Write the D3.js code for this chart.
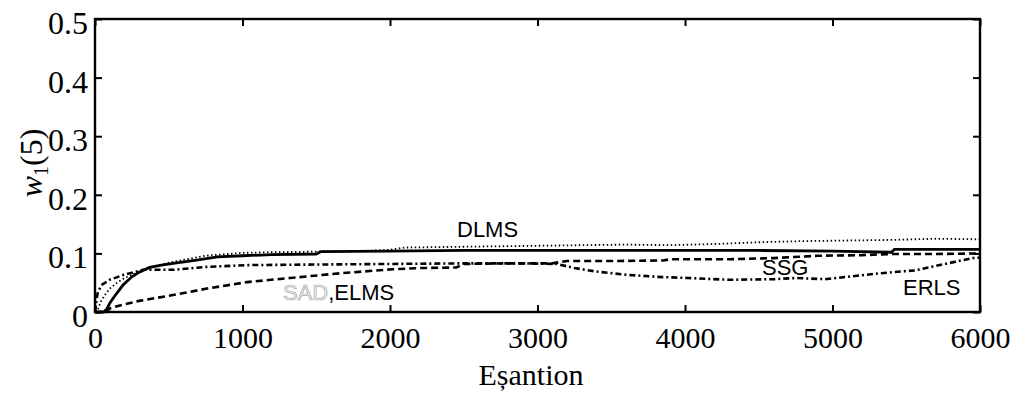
<!DOCTYPE html>
<html>
<head>
<meta charset="utf-8">
<script src="https://cdn.jsdelivr.net/npm/d3@7"></script>
<style>
  html, body { margin: 0; padding: 0; background: #fff; }
  svg { display: block; }
</style>
</head>
<body>
<svg id="chart" width="1025" height="405"></svg>
<script>
// Tick values for both axes
const xTicks = [0, 1000, 2000, 3000, 4000, 5000, 6000];
const yTicks = [0, 0.1, 0.2, 0.3, 0.4, 0.5];

// Weight trajectories [sample, w1(5)] for each adaptive algorithm
const dlms = [[0,0],[20,0.005],[40,0.018],[70,0.03],[100,0.04],[150,0.05],[200,0.058],[300,0.069],[400,0.077],[500,0.084],[600,0.089],[750,0.096],[900,0.099],[1000,0.101],[1200,0.102],[1500,0.103],[1800,0.104],[2000,0.106],[2100,0.110],[2400,0.111],[2700,0.112],[3000,0.113],[3300,0.114],[3600,0.115],[3900,0.114],[4200,0.116],[4500,0.119],[4800,0.121],[5100,0.122],[5400,0.123],[5700,0.125],[6000,0.124]];

const ssg = [[0,0],[60,0],[80,0.005],[100,0.015],[130,0.026],[190,0.046],[250,0.06],[300,0.068],[370,0.076],[450,0.08],[530,0.083],[700,0.089],[830,0.094],[1000,0.096],[1200,0.098],[1500,0.099],[1530,0.103],[2000,0.104],[2500,0.105],[3000,0.105],[3500,0.105],[4000,0.105],[4500,0.105],[5000,0.104],[5400,0.102],[5420,0.107],[6000,0.107]];

const sadElms = [[0,0],[80,0],[100,0.006],[150,0.01],[300,0.019],[530,0.029],[760,0.04],[1030,0.051],[1320,0.058],[1660,0.066],[2020,0.073],[2200,0.075],[2450,0.076],[2500,0.082],[2800,0.083],[3100,0.083],[3200,0.087],[3500,0.087],[3850,0.088],[3900,0.09],[4300,0.09],[4600,0.092],[4900,0.096],[5200,0.097],[5400,0.099],[5700,0.099],[6000,0.1]];

const erls = [[0,0],[10,0.02],[20,0.035],[50,0.047],[100,0.055],[190,0.063],[325,0.072],[420,0.072],[530,0.072],[760,0.077],[1030,0.08],[1500,0.081],[2000,0.082],[2500,0.083],[2900,0.083],[3130,0.082],[3250,0.075],[3400,0.069],[3580,0.064],[3810,0.06],[4020,0.058],[4300,0.055],[4600,0.056],[4750,0.058],[4950,0.056],[5100,0.06],[5320,0.066],[5560,0.071],[5780,0.083],[5950,0.092],[6000,0.093]];

const svg = d3.select("#chart");
const plotLeft = 95, plotRight = 980, plotTop = 19, plotBottom = 312;

const x = d3.scaleLinear().domain([0, 6000]).range([plotLeft, plotRight]);
const y = d3.scaleLinear().domain([0, 0.5]).range([plotBottom, plotTop]);

const line = d3.line().x(d => x(d[0])).y(d => y(d[1]));

const series = [
  { data: dlms,    dash: "1.5,2.5",   width: 1.8 },
  { data: ssg,     dash: null,        width: 2.8 },
  { data: sadElms, dash: "7,4",       width: 2.6 },
  { data: erls,    dash: "6,3,2,3",   width: 2.6 }
];

svg.append("g").selectAll("path")
  .data(series)
  .join("path")
  .attr("d", s => line(s.data))
  .attr("fill", "none")
  .attr("stroke", "#000")
  .attr("stroke-width", s => s.width)
  .attr("stroke-dasharray", s => s.dash);

// Axes with inward ticks
const fmtY = d => d === 0 ? "0" : d3.format(".1f")(d);

const gx = svg.append("g").attr("transform", `translate(0,${plotBottom})`)
  .call(d3.axisBottom(x).tickValues(xTicks).tickSizeInner(-7).tickSizeOuter(0).tickPadding(15).tickFormat(d3.format("d")));
const gy = svg.append("g").attr("transform", `translate(${plotLeft},0)`)
  .call(d3.axisLeft(y).tickValues(yTicks).tickSizeInner(-7).tickSizeOuter(0).tickPadding(7).tickFormat(fmtY));
const gt = svg.append("g").attr("transform", `translate(0,${plotTop})`)
  .call(d3.axisTop(x).tickValues(xTicks).tickSizeInner(-7).tickSizeOuter(0).tickFormat(""));
const gr = svg.append("g").attr("transform", `translate(${plotRight},0)`)
  .call(d3.axisRight(y).tickValues(yTicks).tickSizeInner(-7).tickSizeOuter(0).tickFormat(""));

[gx, gy, gt, gr].forEach(g => {
  g.select(".domain").remove();
  g.selectAll(".tick line").attr("stroke", "#000").attr("stroke-width", 2);
  g.selectAll("text")
    .attr("fill", "#000")
    .attr("font-family", "'Liberation Serif', 'Times New Roman', serif")
    .attr("font-size", 30);
});
gy.selectAll("text").attr("dy", "0.45em").attr("font-size", 32);

// Frame
svg.append("rect")
  .attr("x", plotLeft).attr("y", plotTop)
  .attr("width", plotRight - plotLeft).attr("height", plotBottom - plotTop)
  .attr("fill", "none").attr("stroke", "#000").attr("stroke-width", 2.4);

// Axis titles
svg.append("text")
  .attr("x", 531).attr("y", 385)
  .attr("text-anchor", "middle")
  .attr("font-family", "'Liberation Serif', 'Times New Roman', serif")
  .attr("font-size", 30)
  .text("Eșantion");

const yl = svg.append("text")
  .attr("transform", "translate(42,163) rotate(-90)")
  .attr("text-anchor", "middle")
  .attr("font-family", "'Liberation Serif', 'Times New Roman', serif")
  .attr("font-size", 32);
yl.append("tspan").attr("font-style", "italic").text("w");
yl.append("tspan").attr("font-size", 20).attr("dy", 6).text("1");
yl.append("tspan").attr("dy", -6).text("(5)");

// Curve labels
const sans = "'Liberation Sans', Arial, sans-serif";
svg.append("text").attr("x", 457).attr("y", 237)
  .attr("font-family", sans).attr("font-size", 22).text("DLMS");
const sad = svg.append("text").attr("x", 283).attr("y", 300)
  .attr("font-family", sans).attr("font-size", 22);
sad.append("tspan").attr("fill", "#f2f2f2").attr("stroke", "#aaa").attr("stroke-width", 0.7).text("SAD");
sad.append("tspan").attr("fill", "#000").text(",ELMS");
svg.append("text").attr("x", 762).attr("y", 275)
  .attr("font-family", sans).attr("font-size", 22).text("SSG");
svg.append("text").attr("x", 903).attr("y", 295)
  .attr("font-family", sans).attr("font-size", 22).text("ERLS");
</script>
</body>
</html>
